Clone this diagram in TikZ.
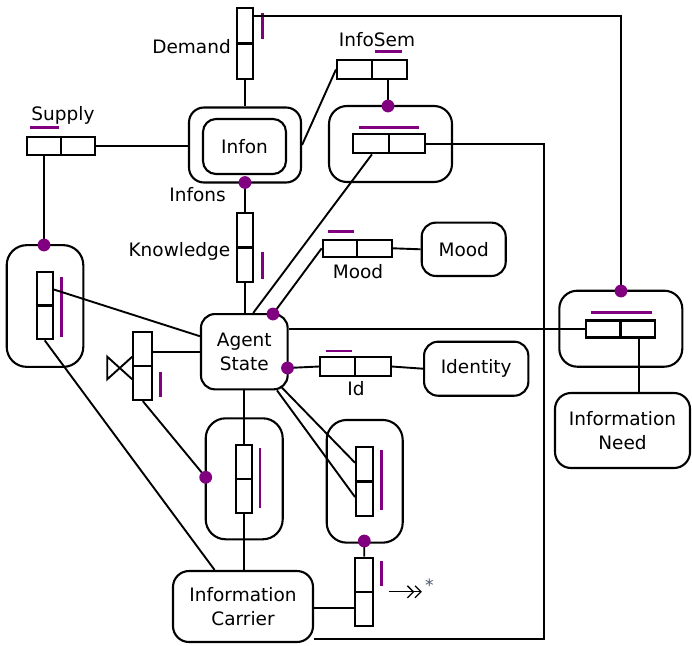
\documentclass[tikz,border=0pt]{standalone}
\usepackage{fontspec}
\setmainfont{DejaVu Sans}
\usetikzlibrary{calc,arrows.meta}
\definecolor{purp}{RGB}{128,0,128}
\definecolor{astk}{RGB}{70,85,110}

\begin{document}
\begin{tikzpicture}[x=1pt,y=-1pt,
  every node/.style={font=\fontsize{18.5}{24}\selectfont},
  ent/.style={draw, line width=2.1pt, rounded corners=#1, inner sep=0pt, align=center},
  ent/.default=15pt,
  bar/.style={draw, line width=2.1pt, inner sep=0pt},
  conn/.style={line width=1.9pt},
  ptick/.style={draw=purp, line width=2.8pt},
  pdot/.style={circle, fill=purp, inner sep=0pt, minimum size=12.8pt},
  lbl/.style={inner sep=0pt}]

\useasboundingbox (0,0) rectangle (692,645);

% ---------- entity boxes ----------
\node[ent] (infonout) [minimum width=112pt, minimum height=75pt] at (245,145) {};
\node[ent=13pt] (infon) [minimum width=83pt, minimum height=55pt] at (244.5,146.5) {Infon};
\node[ent=18pt] (semcont) [minimum width=123pt, minimum height=76pt] at (390.5,144) {};
\node[ent=20pt] (leftcont) [minimum width=76.6pt, minimum height=121.7pt] at (45,306) {};
\node[ent=14pt] (agent) [minimum width=86.7pt, minimum height=75.3pt] at (244.3,351.7) {Agent\\State};
\node[ent=14pt] (moodbox) [minimum width=84pt, minimum height=53.3pt] at (463.7,249.3) {Mood};
\node[ent=14pt] (identity) [minimum width=104.3pt, minimum height=54pt] at (476.2,368.7) {Identity};
\node[ent=18pt] (needcont) [minimum width=123pt, minimum height=76pt] at (620.8,328.7) {};
\node[ent=16pt] (need) [minimum width=135pt, minimum height=75pt] at (622.5,430.5) {Information\\Need};
\node[ent=20pt] (midcont) [minimum width=77pt, minimum height=121pt] at (244.2,478.8) {};
\node[ent=20pt] (rightcont) [minimum width=76pt, minimum height=122.7pt] at (364.7,481.3) {};
\node[ent=16pt] (carrier) [minimum width=140pt, minimum height=71pt] at (243,606.5) {Information\\Carrier};

% ---------- two-cell bars ----------
% vertical bars
\node[bar] (demand) [minimum width=16pt, minimum height=71pt] at (245,43.5) {};
\node[bar] (knowledge) [minimum width=16.6pt, minimum height=68.4pt] at (245,247.5) {};
\node[bar] (lbar) [minimum width=16pt, minimum height=67.6pt] at (44.7,305.5) {};
\node[bar] (vbar) [minimum width=19pt, minimum height=67.7pt] at (142.8,366.2) {};
\node[bar] (mbar) [minimum width=16.7pt, minimum height=68.3pt] at (244,479.2) {};
\node[bar] (rbar) [minimum width=17.3pt, minimum height=68.4pt] at (364.7,481.5) {};
\node[bar] (bbar) [minimum width=18.3pt, minimum height=68.3pt] at (364.2,591.8) {};
\foreach \b in {demand,knowledge,lbar,vbar,mbar,rbar,bbar}
  \draw[line width=2.1pt] (\b.west) -- (\b.east);
% horizontal bars
\node[bar] (infosem) [minimum width=70pt, minimum height=19pt] at (372,69.5) {};
\node[bar] (sembar) [minimum width=72pt, minimum height=19pt] at (389,143.8) {};
\node[bar] (supply) [minimum width=68.5pt, minimum height=18.5pt] at (61,146) {};
\node[bar] (mood) [minimum width=69pt, minimum height=16.7pt] at (357.2,248.3) {};
\node[bar] (id) [minimum width=70.7pt, minimum height=18.4pt] at (355.3,366.5) {};
\node[bar] (needbar) [minimum width=69pt, minimum height=17pt] at (620.5,329) {};
\foreach \b in {infosem,sembar,supply,mood,id,needbar}
  \draw[line width=2.1pt] (\b.north) -- (\b.south);

% ---------- labels ----------
\node[lbl, anchor=base east] (demandlbl) at (231,53) {Demand};
\node[lbl, anchor=base] (infosemlbl) at (377,46) {InfoSem};
\node[lbl, anchor=base east] (infonslbl) at (226,201.5) {Infons};
\node[lbl, anchor=base east] (knowlbl) at (230.5,256.5) {Knowledge};
\node[lbl, anchor=base] (supplylbl) at (63,120.7) {Supply};
\node[lbl, anchor=base] (moodlbl) at (358,278.3) {Mood};
\node[lbl, anchor=base] (idlbl) at (356,395) {Id};

% ---------- purple marks ----------
\draw[ptick] (262.3,13) -- (262.3,39);
\draw[ptick] (375,51.7) -- (402,51.7);
\draw[ptick] (359,127.7) -- (419,127.7);
\draw[ptick] (30,127.7) -- (59,127.7);
\draw[ptick] (61.7,277) -- (61.7,337);
\draw[ptick] (262.3,252) -- (262.3,279);
\draw[ptick] (328,231.7) -- (354.3,231.7);
\draw[ptick] (325.7,351) -- (352.3,351);
\draw[ptick] (591,312.3) -- (651.7,312.3);
\draw[ptick] (160.7,371.7) -- (160.7,397.3);
\draw[ptick] (260,448.3) -- (260,508.3);
\draw[ptick] (381.7,450) -- (381.7,510);
\draw[ptick] (381.7,561) -- (381.7,586);

% ---------- anchor points ----------
\coordinate (infonsdot) at (245,182.5);
\coordinate (semdot) at (388,106);
\coordinate (leftdot) at (44,245);
\coordinate (agentdot1) at (273,314);
\coordinate (agentdot2) at (287.5,368);
\coordinate (needdot) at (621,291);
\coordinate (middot) at (205.7,477.3);
\coordinate (rightdot) at (364.3,541);
\coordinate (corner) at (544,639);
\coordinate (needdrop) at ($(needbar.south)+(18.5,0)$);

% ---------- connectors ----------
\draw[conn] ($(demand.north east)+(0,9)$) -| (needdot);
\draw[conn] (demand.south) -- (infonout.north);
\draw[conn] (supply.east) -- (supply.east -| infonout.west);
\draw[conn] (leftdot) -- (leftdot |- supply.south);
\draw[conn] (infosem.west) -- (infonout.east);
\draw[conn] (semdot) -- (semdot |- infosem.south);
\draw[conn] (infonsdot) -- (knowledge.north);
\draw[conn] (knowledge.south) -- (knowledge.south |- agent.north);
\draw[conn] (sembar.east) -| (corner) -- (corner -| carrier.east);
\draw[conn] ($(agent.north west)!0.6!(agent.north east)$) -- ($(sembar.south west)!0.27!(sembar.south east)$);
\draw[conn] (agentdot1) -- (mood.west);
\draw[conn] (mood.east) -- (moodbox.west);
\draw[conn] (needbar.west -| agent.east) -- (needbar.west);
\draw[conn] (agentdot2) -- (id.west);
\draw[conn] (id.east) -- (identity.west);
\draw[conn] (needdrop) -- (needdrop |- need.north);
\draw[conn] ($(lbar.north east)!0.27!(lbar.south east)$) -- ($(agent.north west)!0.3!(agent.south west)$);
\draw[conn] (lbar.south) -- ($(carrier.north west)!0.3!(carrier.north east)$);
\draw[conn] (agent.west) -- (agent.west -| vbar.east);
\draw[conn] (vbar.south) -- (middot);
\draw[conn] (mbar.north |- agent.south) -- (mbar.north);
\draw[conn] (mbar.south) -- (mbar.south |- carrier.north);
\draw[conn] ($(agent.south east)+(-11.7,0)$) -- ($(rbar.north west)!0.72!(rbar.south west)$);
\draw[conn] ($(agent.south east)+(-7,-3)$) -- ($(rbar.north west)!0.234!(rbar.south west)$);
\draw[conn] (rightdot) -- (bbar.north);
\draw[conn] ($(bbar.north west)!0.73!(bbar.south west)$) coordinate (cw) -- (cw -| carrier.east);

% valve symbol beside the left bar
\coordinate (valve) at ($(vbar.west)+(0,1.8)$);
\draw[line width=1.9pt, line join=miter]
  ($(valve)+(0,-11.3)$) -- ($(valve)+(-25,11.3)$) -- ($(valve)+(-25,-11.3)$) -- ($(valve)+(0,11.3)$);

% outgoing arrow with asterisk
\draw[line width=1.3pt, -{Straight Barb[length=6pt,width=12pt] Straight Barb[length=6pt,width=12pt]}]
  ($(bbar.east)+(14.5,0)$) -- ++(33,0) coordinate (arrowend);
\node[lbl, text=astk, font=\fontsize{17}{17}\selectfont] (star) at ($(arrowend)+(7.5,-7)$) {*};

% ---------- purple dots ----------
\foreach \d in {infonsdot,semdot,leftdot,agentdot1,agentdot2,needdot,middot,rightdot}
  \node[pdot] at (\d) {};

\end{tikzpicture}
\end{document}
